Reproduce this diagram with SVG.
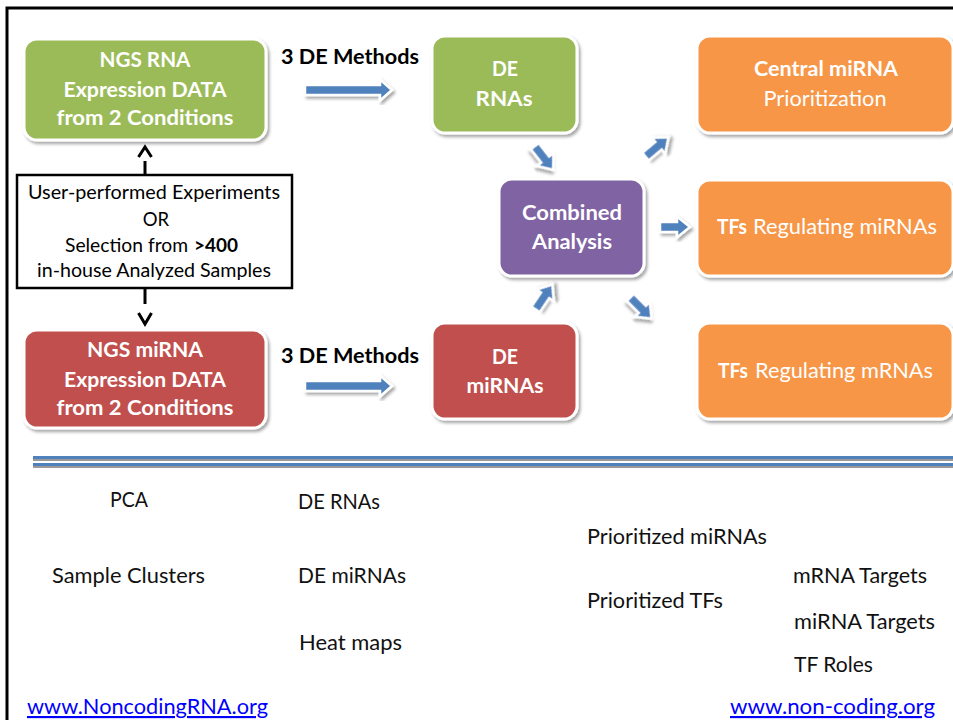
<svg xmlns="http://www.w3.org/2000/svg" width="953" height="720" viewBox="0 0 953 720">
  <defs>
    <filter id="shadow" x="-20%" y="-20%" width="140%" height="140%">
      <feDropShadow dx="2" dy="2.5" stdDeviation="1.8" flood-color="#000" flood-opacity="0.35"/>
    </filter>
    <path id="bigArrow" d="M0,-5 H75 V-10.5 L87,0 L75,10.5 V5 H0 Z"/>
    <path id="smallArrow" d="M-15,-5 H2 V-10.5 L15,0 L2,10.5 V5 H-15 Z"/>
    <style>
      text { font-family: Lato, "Open Sans", "Liberation Sans", sans-serif; }
      .box { stroke: #fff; stroke-width: 3; filter: url(#shadow); }
      .green { fill: #9BBB59; }
      .red { fill: #C0504D; }
      .purple { fill: #8064A2; }
      .orange { fill: #F79646; }
      .bt { fill: #fff; font-size: 21.5px; font-weight: bold; }
      .nt { fill: #fff; font-size: 21.5px; }
      .lbl { fill: #000; font-size: 21.5px; font-weight: bold; }
      .src { fill: #000; font-size: 18.5px; }
      .out { fill: #111; font-size: 21.5px; }
      .link { fill: #0000FF; font-size: 21.5px; text-decoration: underline; }
      .arrow { fill: #4F81BD; stroke: #fff; stroke-width: 2.5; filter: url(#shadow); }
      .dash { stroke: #000; stroke-width: 3; fill: none; }
    </style>
  </defs>

  <rect width="953" height="720" fill="#fff"/>
  <!-- slide frame -->
  <rect x="7" y="8" width="970" height="740" fill="none" stroke="#000" stroke-width="3"/>

  <!-- input data nodes -->
  <g id="rna-data">
    <rect class="box green" x="24" y="39" width="242" height="101" rx="13"/>
    <text class="bt" x="145" y="67" text-anchor="middle" textLength="91" lengthAdjust="spacingAndGlyphs">NGS RNA</text>
    <text class="bt" x="145" y="97" text-anchor="middle" textLength="163" lengthAdjust="spacingAndGlyphs">Expression DATA</text>
    <text class="bt" x="145" y="125" text-anchor="middle" textLength="177" lengthAdjust="spacingAndGlyphs">from 2 Conditions</text>
  </g>

  <g id="mirna-data">
    <rect class="box red" x="24" y="330" width="242" height="98" rx="13"/>
    <text class="bt" x="145" y="357" text-anchor="middle" textLength="116" lengthAdjust="spacingAndGlyphs">NGS miRNA</text>
    <text class="bt" x="145" y="387" text-anchor="middle" textLength="162" lengthAdjust="spacingAndGlyphs">Expression DATA</text>
    <text class="bt" x="145" y="415" text-anchor="middle" textLength="177" lengthAdjust="spacingAndGlyphs">from 2 Conditions</text>
  </g>

  <g id="sample-source">
    <rect x="17" y="175" width="275" height="113" fill="#fff" stroke="#000" stroke-width="2.5"/>
    <text class="src" x="154" y="199" text-anchor="middle" textLength="252" lengthAdjust="spacingAndGlyphs">User-performed Experiments</text>
    <text class="src" x="156" y="226" text-anchor="middle">OR</text>
    <text class="src" x="65" y="252" textLength="123" lengthAdjust="spacingAndGlyphs">Selection from</text>
    <text class="src" x="194" y="252" font-weight="bold" textLength="44" lengthAdjust="spacingAndGlyphs">&gt;400</text>
    <text class="src" x="154" y="277" text-anchor="middle" textLength="234" lengthAdjust="spacingAndGlyphs">in-house Analyzed Samples</text>
  </g>

  <!-- differential expression nodes -->
  <g id="de-rnas">
    <rect class="box green" x="432" y="36" width="145" height="97" rx="13"/>
    <text class="bt" x="505" y="76" text-anchor="middle" textLength="26" lengthAdjust="spacingAndGlyphs">DE</text>
    <text class="bt" x="504" y="106" text-anchor="middle" textLength="57" lengthAdjust="spacingAndGlyphs">RNAs</text>
  </g>

  <g id="de-mirnas">
    <rect class="box red" x="432" y="323" width="145" height="96" rx="13"/>
    <text class="bt" x="505" y="364" text-anchor="middle" textLength="26" lengthAdjust="spacingAndGlyphs">DE</text>
    <text class="bt" x="505" y="393" text-anchor="middle" textLength="77" lengthAdjust="spacingAndGlyphs">miRNAs</text>
  </g>

  <g id="combined">
    <rect class="box purple" x="499" y="179" width="145" height="97" rx="13"/>
    <text class="bt" x="572" y="220" text-anchor="middle" textLength="100" lengthAdjust="spacingAndGlyphs">Combined</text>
    <text class="bt" x="572" y="249" text-anchor="middle" textLength="80" lengthAdjust="spacingAndGlyphs">Analysis</text>
  </g>

  <!-- result nodes -->
  <g id="central-mirna">
    <rect class="box orange" x="697" y="36" width="256" height="97" rx="13"/>
    <text class="bt" x="826" y="76" text-anchor="middle" textLength="144" lengthAdjust="spacingAndGlyphs">Central miRNA</text>
    <text class="nt" x="825" y="106" text-anchor="middle" textLength="123" lengthAdjust="spacingAndGlyphs">Prioritization</text>
  </g>

  <g id="tfs-mirnas">
    <rect class="box orange" x="697" y="180" width="256" height="96" rx="13"/>
    <text class="bt" x="717" y="234" textLength="30" lengthAdjust="spacingAndGlyphs">TFs</text>
    <text class="nt" x="753" y="234" textLength="184" lengthAdjust="spacingAndGlyphs">Regulating miRNAs</text>
  </g>

  <g id="tfs-mrnas">
    <rect class="box orange" x="697" y="323" width="256" height="96" rx="13"/>
    <text class="bt" x="718" y="378" textLength="30" lengthAdjust="spacingAndGlyphs">TFs</text>
    <text class="nt" x="755" y="378" textLength="178" lengthAdjust="spacingAndGlyphs">Regulating mRNAs</text>
  </g>

  <!-- connectors -->
  <g id="connectors">
    <text class="lbl" x="281" y="64" textLength="138" lengthAdjust="spacingAndGlyphs">3 DE Methods</text>
    <text class="lbl" x="281" y="363" textLength="138" lengthAdjust="spacingAndGlyphs">3 DE Methods</text>
    <use href="#bigArrow" class="arrow" transform="translate(305,90)"/>
    <use href="#bigArrow" class="arrow" transform="translate(305,386)"/>

    <use href="#smallArrow" class="arrow" transform="translate(544,158) rotate(52)"/>
    <use href="#smallArrow" class="arrow" transform="translate(544,297) rotate(-56)"/>
    <use href="#smallArrow" class="arrow" transform="translate(657,147) rotate(-40)"/>
    <use href="#smallArrow" class="arrow" transform="translate(675,227)"/>
    <use href="#smallArrow" class="arrow" transform="translate(641,308) rotate(45)"/>

    <!-- dashed links from the sample source -->
    <line class="dash" x1="145" y1="175" x2="145" y2="161"/>
    <polyline class="dash" points="138.5,157 145,147 151.5,157"/>
    <line class="dash" x1="145" y1="288" x2="145" y2="304"/>
    <polyline class="dash" points="138.5,313 145,324 151.5,313"/>
  </g>

  <!-- divider -->
  <g id="divider">
    <line x1="33" y1="460" x2="953" y2="460" stroke="#9a9a9a" stroke-width="2"/>
    <line x1="33" y1="467" x2="953" y2="467" stroke="#9a9a9a" stroke-width="2"/>
    <line x1="33" y1="457.5" x2="953" y2="457.5" stroke="#4F81BD" stroke-width="3"/>
    <line x1="33" y1="464.5" x2="953" y2="464.5" stroke="#4F81BD" stroke-width="3"/>
  </g>

  <!-- outputs -->
  <g id="outputs">
    <text class="out" x="110" y="507" textLength="38" lengthAdjust="spacingAndGlyphs">PCA</text>
    <text class="out" x="52" y="583" textLength="153" lengthAdjust="spacingAndGlyphs">Sample Clusters</text>
    <text class="out" x="298" y="509" textLength="82" lengthAdjust="spacingAndGlyphs">DE RNAs</text>
    <text class="out" x="298" y="583" textLength="108" lengthAdjust="spacingAndGlyphs">DE miRNAs</text>
    <text class="out" x="299" y="650" textLength="103" lengthAdjust="spacingAndGlyphs">Heat maps</text>
    <text class="out" x="587" y="544" textLength="180" lengthAdjust="spacingAndGlyphs">Prioritized miRNAs</text>
    <text class="out" x="587" y="608" textLength="136" lengthAdjust="spacingAndGlyphs">Prioritized TFs</text>
    <text class="out" x="793" y="583" textLength="134" lengthAdjust="spacingAndGlyphs">mRNA Targets</text>
    <text class="out" x="794" y="629" textLength="141" lengthAdjust="spacingAndGlyphs">miRNA Targets</text>
    <text class="out" x="794" y="672" textLength="79" lengthAdjust="spacingAndGlyphs">TF Roles</text>
  </g>

  <g id="links">
    <text class="link" x="27" y="714" textLength="241" lengthAdjust="spacingAndGlyphs">www.NoncodingRNA.org</text>
    <text class="link" x="730" y="714" textLength="205" lengthAdjust="spacingAndGlyphs">www.non-coding.org</text>
  </g>
</svg>
